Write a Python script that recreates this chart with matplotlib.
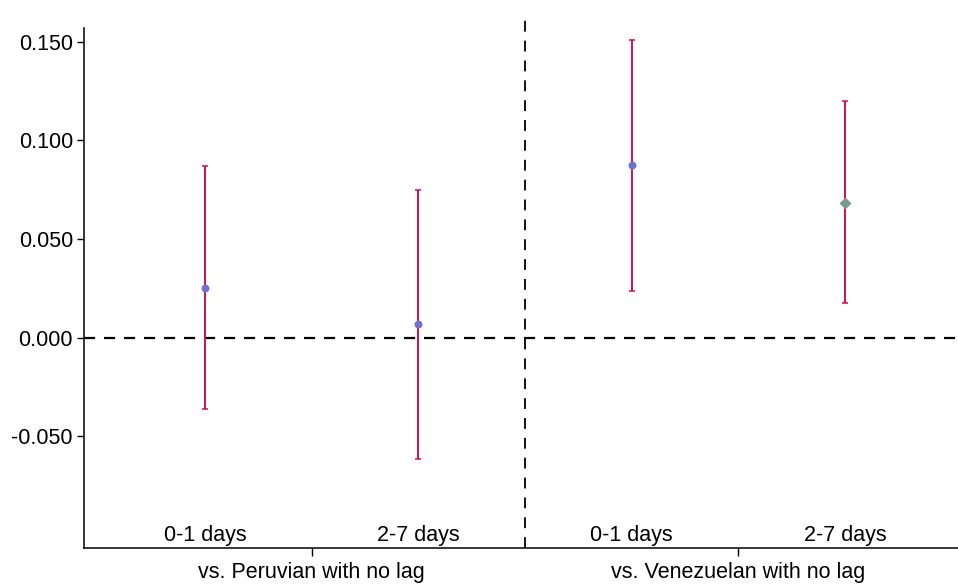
import matplotlib.pyplot as plt
import numpy as np

plt.rcParams['font.family'] = ['Liberation Sans', 'DejaVu Sans']

# estimates and 95% intervals
categories = ['0-1 days', '2-7 days', '0-1 days', '2-7 days']
groups = ['vs. Peruvian with no lag', 'vs. Venezuelan with no lag']
coef = [0.0254, 0.0071, 0.0878, 0.0685]
lower = [-0.0360, -0.0614, 0.0239, 0.0178]
upper = [0.0873, 0.0750, 0.1508, 0.1198]
yticks = [-0.05, 0.0, 0.05, 0.10, 0.15]

x = np.arange(1, len(coef) + 1)
coef = np.array(coef)
err = [coef - np.array(lower), np.array(upper) - coef]

fig = plt.figure(figsize=(9.58, 5.84), dpi=100)
ax = fig.add_axes([0.0877, 0.0616, 0.9123, 0.8904])

ax.errorbar(x, coef, yerr=err, fmt='none', ecolor='#d0104c',
            elinewidth=1.4, capsize=2.5, capthick=1.1, zorder=2)
ax.scatter(x[:3], coef[:3], s=22, color='#6f6fd8', zorder=3)
ax.scatter(x[3:], coef[3:], s=26, marker='D', color='#7a9a8a', zorder=3)

ax.axhline(0, color='black', linestyle=(0, (5, 4)), linewidth=1.6, zorder=1)
ax.axvline(2.5, ymin=0, ymax=1.025, color='black', linestyle=(0, (6, 5)),
           linewidth=1.3, clip_on=False, zorder=1)

ax.set_xlim(0.433, 4.53)
ax.set_ylim(-0.1066, 0.157)
ax.set_yticks(yticks)
ax.set_yticklabels([f'{v:.3f}' for v in yticks], fontsize=15.5)
ax.tick_params(axis='y', length=5, width=1, pad=3)

ax.set_xticks([1.5, 3.5])
ax.set_xticklabels([])
ax.tick_params(axis='x', length=6, width=1)

for s in ['top', 'right']:
    ax.spines[s].set_visible(False)
ax.spines['left'].set_linewidth(1.1)
ax.spines['bottom'].set_linewidth(1.1)

for xi, lab in zip(x, categories):
    ax.text(xi, -0.1066 + 0.0008, lab, ha='center', va='bottom', fontsize=15.5)

for xi, g in zip([1.5, 3.5], groups):
    ax.text(xi, -0.1066 - 0.0070, g, ha='center', va='top', fontsize=15.5,
            clip_on=False)

plt.savefig('out.png', dpi=100)
plt.close()
